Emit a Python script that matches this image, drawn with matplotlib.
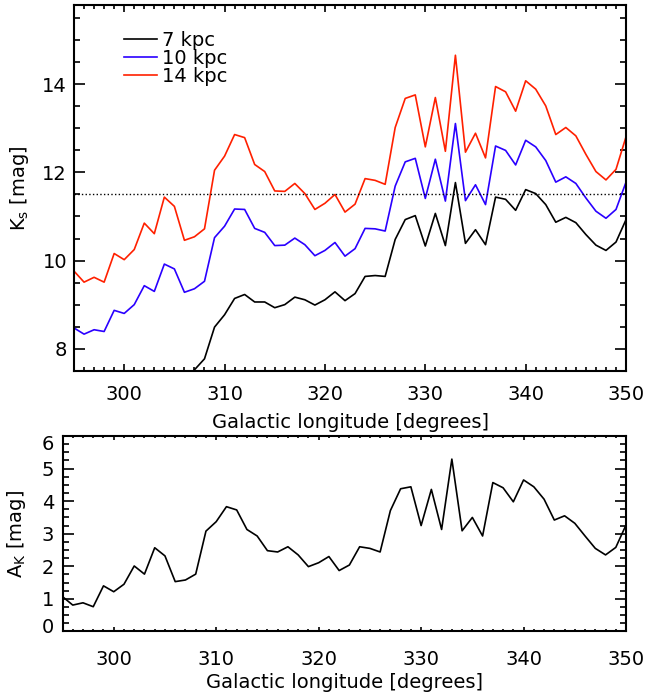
import numpy as np
import matplotlib
matplotlib.use("Agg")
import matplotlib.pyplot as plt
import matplotlib.transforms as mtransforms
from matplotlib.ticker import MultipleLocator

# galactic longitude grid (1 degree steps)
glon = np.arange(295, 351)

# Ks magnitude at 7, 10 and 14 kpc (7 kpc curve is below the plot range for l < 307)
ks_7kpc = [np.nan] * 11 + [
    7.20, 7.52, 7.77, 8.49, 8.77, 9.14, 9.23, 9.06, 9.06, 8.93,
    9.00, 9.17, 9.11, 8.99, 9.11, 9.29, 9.09, 9.25, 9.64, 9.66,
    9.64, 10.48, 10.93, 11.02, 10.33, 11.07, 10.34, 11.77, 10.39, 10.70,
    10.36, 11.44, 11.39, 11.14, 11.61, 11.52, 11.27, 10.87, 10.98, 10.86,
    10.59, 10.35, 10.23, 10.42, 10.93]
ks_10kpc = [
    8.47, 8.33, 8.43, 8.39, 8.87, 8.80, 9.00, 9.43, 9.30, 9.92,
    9.81, 9.28, 9.36, 9.53, 10.52, 10.78, 11.17, 11.16, 10.73, 10.64,
    10.34, 10.35, 10.51, 10.36, 10.11, 10.23, 10.41, 10.10, 10.27, 10.73,
    10.72, 10.67, 11.69, 12.24, 12.32, 11.41, 12.30, 11.35, 13.11, 11.36,
    11.72, 11.27, 12.60, 12.50, 12.17, 12.73, 12.58, 12.27, 11.78, 11.90,
    11.75, 11.42, 11.12, 10.96, 11.16, 11.78]
ks_14kpc = [
    9.76, 9.51, 9.62, 9.51, 10.16, 10.02, 10.25, 10.85, 10.61, 11.44,
    11.23, 10.46, 10.54, 10.72, 12.05, 12.37, 12.86, 12.79, 12.18, 12.02,
    11.58, 11.57, 11.75, 11.52, 11.16, 11.30, 11.50, 11.10, 11.28, 11.86,
    11.82, 11.73, 13.02, 13.68, 13.76, 12.58, 13.70, 12.48, 14.66, 12.46,
    12.89, 12.33, 13.95, 13.83, 13.39, 14.08, 13.89, 13.51, 12.86, 13.02,
    12.83, 12.41, 12.02, 11.83, 12.07, 12.81]
ks_limit = 11.5

# extinction A_K
a_k = [
    1.07, 0.81, 0.88, 0.76, 1.40, 1.22, 1.45, 2.01, 1.76, 2.57,
    2.32, 1.53, 1.58, 1.76, 3.08, 3.37, 3.83, 3.73, 3.13, 2.93,
    2.48, 2.44, 2.60, 2.35, 1.99, 2.11, 2.30, 1.87, 2.04, 2.60,
    2.55, 2.44, 3.71, 4.38, 4.44, 3.25, 4.36, 3.13, 5.29, 3.09,
    3.50, 2.93, 4.57, 4.41, 3.98, 4.65, 4.44, 4.06, 3.42, 3.55,
    3.32, 2.93, 2.55, 2.35, 2.58, 3.27]

plt.rcParams['font.family'] = 'DejaVu Sans'
plt.rcParams['mathtext.fontset'] = 'dejavusans'
plt.rcParams['font.size'] = 14

fig = plt.figure(figsize=(6.47, 6.95), dpi=100)
ax1 = fig.add_axes([0.1144, 0.4666, 0.8532, 0.5262])
ax2 = fig.add_axes([0.0966, 0.0914, 0.8710, 0.2813])

ax1.plot(glon, ks_7kpc, color='black', lw=1.2, label='7 kpc')
ax1.plot(glon, ks_10kpc, color='#2a00ff', lw=1.2, label='10 kpc')
ax1.plot(glon, ks_14kpc, color='#ff2000', lw=1.2, label='14 kpc')
ax1.axhline(ks_limit, color='black', ls=':', lw=1.0)
ax1.set_xlim(295, 350)
ax1.set_ylim(7.5, 15.8)
ax1.set_ylabel(r'K$_\mathrm{s}$ [mag]', labelpad=8)
ax1.set_xlabel('Galactic longitude [degrees]', labelpad=7)
ax1.xaxis.set_major_locator(MultipleLocator(10))
ax1.xaxis.set_minor_locator(MultipleLocator(1))
ax1.yaxis.set_major_locator(MultipleLocator(2))
ax1.yaxis.set_minor_locator(MultipleLocator(0.5))
ax1.tick_params(axis='x', which='major', length=5.3, pad=10)
ax1.tick_params(axis='x', which='minor', length=2.6)
ax1.tick_params(axis='y', which='major', length=7.9, pad=5)
ax1.tick_params(axis='y', which='minor', length=4)
leg = ax1.legend(loc='upper left', bbox_to_anchor=(0.07, 0.962), frameon=False,
                 handlelength=1.7, handletextpad=0.25, labelspacing=-0.05,
                 fontsize=14, borderaxespad=0.2)

ax2.plot(glon, a_k, color='black', lw=1.2)
ax2.set_xlim(295, 350)
ax2.set_ylim(0, 6)
ax2.set_ylabel(r'A$_\mathrm{K}$ [mag]', labelpad=10)
ax2.set_xlabel('Galactic longitude [degrees]', labelpad=3)
ax2.xaxis.set_major_locator(MultipleLocator(10))
ax2.xaxis.set_minor_locator(MultipleLocator(1))
ax2.yaxis.set_major_locator(MultipleLocator(1))
ax2.yaxis.set_minor_locator(MultipleLocator(0.25))
ax2.tick_params(axis='x', which='major', length=2.8, pad=13)
ax2.tick_params(axis='x', which='minor', length=1.4)
ax2.tick_params(axis='y', which='major', length=8.1, pad=6)
ax2.tick_params(axis='y', which='minor', length=4)

for ax in (ax1, ax2):
    ax.tick_params(which='both', direction='in', top=True, right=True, width=1.2)
    for sp in ax.spines.values():
        sp.set_linewidth(1.5)

# IDL pulls the end labels of the A_K axis inward
fig.canvas.draw()
ticks = ax2.yaxis.get_major_ticks()
for t in ticks:
    val = t.get_loc()
    if abs(val - 0) < 1e-6:
        off = mtransforms.ScaledTranslation(0, 6 / 100, fig.dpi_scale_trans)
        t.label1.set_transform(t.label1.get_transform() + off)
    elif abs(val - 6) < 1e-6:
        off = mtransforms.ScaledTranslation(0, -7 / 100, fig.dpi_scale_trans)
        t.label1.set_transform(t.label1.get_transform() + off)

fig.savefig('out.png', dpi=100)
